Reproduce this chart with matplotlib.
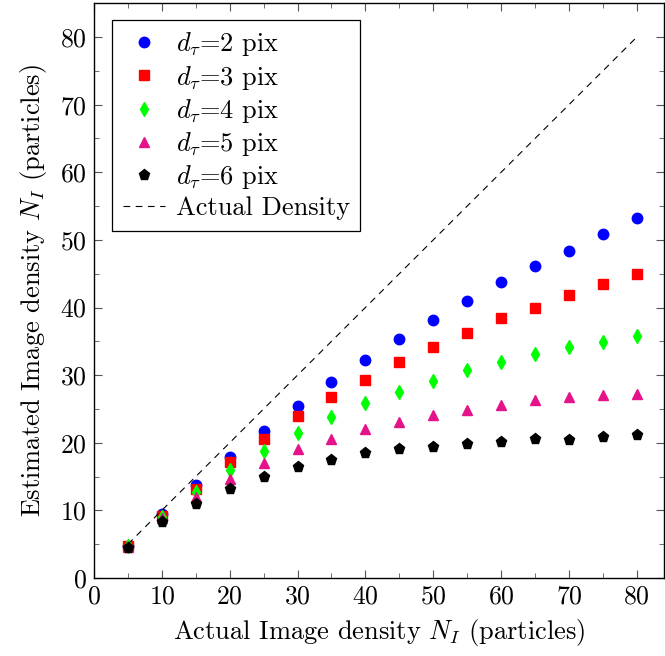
import numpy as np
import matplotlib
matplotlib.use("Agg")
import matplotlib.pyplot as plt
from matplotlib import rcParams
from matplotlib.ticker import MultipleLocator

config = {
    "font.family": 'serif',
    "font.serif": ['cmr10'],
    "mathtext.fontset": 'cm',
    "axes.formatter.use_mathtext": True,
    "font.size": 18.5,
}
rcParams.update(config)

density = [5, 10, 15, 20, 25, 30, 35, 40, 45, 50, 55, 60, 65, 70, 75, 80]

est_d2 = [4.7, 9.5, 13.8, 17.9, 21.8, 25.5, 29.0, 32.3, 35.4, 38.1, 41.0, 43.7, 46.2, 48.4, 50.9, 53.3]
est_d3 = [4.7, 9.2, 13.2, 17.2, 20.6, 23.9, 26.8, 29.3, 31.9, 34.2, 36.3, 38.4, 40.0, 41.8, 43.5, 44.9]
est_d4 = [4.7, 9.0, 12.7, 15.9, 18.8, 21.4, 23.8, 25.9, 27.5, 29.2, 30.7, 32.0, 33.1, 34.1, 34.9, 35.8]
est_d5 = [4.6, 8.8, 12.0, 14.6, 17.0, 19.0, 20.6, 22.0, 23.1, 24.1, 24.9, 25.6, 26.3, 26.8, 27.1, 27.2]
est_d6 = [4.5, 8.2, 11.0, 13.2, 14.9, 16.4, 17.5, 18.5, 19.0, 19.4, 19.8, 20.1, 20.6, 20.4, 20.9, 21.2]

actual = [5, 80]


def draw():
    fig = plt.figure(figsize=(6.65, 6.56), dpi=100)
    ax = fig.add_axes([0.1414, 0.119, 0.857, 0.876])

    ax.plot(density, est_d2, 'o', color='#0000FF', ms=7.5, label=r"$d_\tau$=2 pix")
    ax.plot(density, est_d3, 's', color='#FF0000', ms=7.5, label=r"$d_\tau$=3 pix")
    ax.plot(density, est_d4, 'd', color='#00FF00', ms=7.5, label=r"$d_\tau$=4 pix")
    ax.plot(density, est_d5, '^', color='#E5128A', ms=7, label=r"$d_\tau$=5 pix")
    ax.plot(density, est_d6, 'p', color='black', ms=8, label=r"$d_\tau$=6 pix")
    ax.plot(actual, actual, '--', color='black', lw=0.8, dashes=(6, 5), label="Actual Density")

    ax.set_xlim(0, 84)
    ax.set_ylim(0, 85)
    ax.xaxis.set_major_locator(MultipleLocator(10))
    ax.xaxis.set_minor_locator(MultipleLocator(5))
    ax.yaxis.set_major_locator(MultipleLocator(10))
    ax.yaxis.set_minor_locator(MultipleLocator(5))
    ax.tick_params(which='both', direction='in', top=True, right=True, color='#555555', pad=5)
    ax.tick_params(which='major', length=6)
    ax.tick_params(which='minor', length=3.5)
    for s in ax.spines.values():
        s.set_linewidth(1.0)

    ax.set_xlabel(r"Actual Image density $N_I$ (particles)", fontsize=19, labelpad=6)
    ax.set_ylabel(r"Estimated Image density $N_I$ (particles)", fontsize=19, labelpad=8)

    leg = ax.legend(loc='upper left', bbox_to_anchor=(0.018, 0.985), fancybox=False,
                    edgecolor='black', framealpha=1, fontsize=19, handlelength=1.6,
                    handletextpad=0.4, labelspacing=0.2, borderpad=0.4, borderaxespad=0.3)
    leg.get_frame().set_linewidth(0.9)

    fig.savefig("out.png", dpi=100)


if __name__ == '__main__':
    draw()
